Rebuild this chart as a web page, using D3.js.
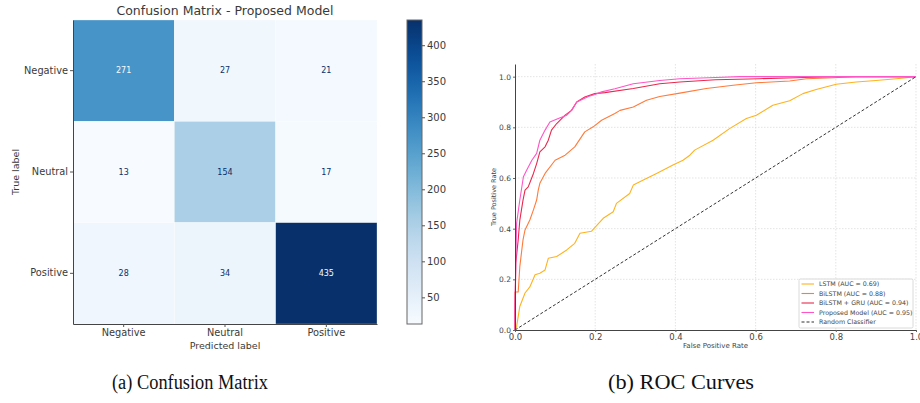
<!DOCTYPE html>
<html>
<head>
<meta charset="utf-8">
<script src="https://cdn.jsdelivr.net/npm/d3@7"></script>
<style>
  body { margin: 0; background: #fff; }
  svg { display: block; font-family: "DejaVu Sans", sans-serif; }
</style>
</head>
<body>
<div id="chart"></div>
<script>
// Confusion matrix data
const classLabels = ['Negative', 'Neutral', 'Positive'];
const matrixValues = [
  [271, 27, 21],
  [13, 154, 17],
  [28, 34, 435]
];
const colorbarTicks = [50, 100, 150, 200, 250, 300, 350, 400];

// ROC curves, [fpr, tpr] points
const lstmRoc = [[0,0],[0.004,0.013],[0.012,0.093],[0.025,0.146],[0.037,0.17],[0.05,0.218],[0.062,0.224],[0.075,0.237],[0.083,0.283],[0.104,0.29],[0.129,0.316],[0.149,0.342],[0.162,0.382],[0.191,0.39],[0.22,0.441],[0.245,0.467],[0.253,0.5],[0.286,0.539],[0.295,0.572],[0.32,0.592],[0.353,0.618],[0.394,0.651],[0.419,0.67],[0.436,0.69],[0.448,0.71],[0.494,0.749],[0.535,0.795],[0.577,0.835],[0.602,0.848],[0.643,0.887],[0.685,0.905],[0.718,0.933],[0.751,0.949],[0.801,0.97],[0.851,0.979],[0.9,0.985],[0.951,0.992],[1,1]];
const bilstmRoc = [[0,0],[0,0.15],[0.008,0.15],[0.012,0.25],[0.02,0.356],[0.025,0.395],[0.037,0.434],[0.046,0.474],[0.054,0.513],[0.058,0.552],[0.062,0.579],[0.075,0.618],[0.1,0.67],[0.125,0.69],[0.149,0.723],[0.174,0.782],[0.195,0.802],[0.216,0.828],[0.249,0.855],[0.262,0.867],[0.295,0.88],[0.328,0.907],[0.361,0.922],[0.411,0.935],[0.477,0.953],[0.544,0.966],[0.602,0.976],[0.685,0.983],[0.727,0.992],[0.793,0.996],[0.85,1],[1,1]];
const gruRoc = [[0,0],[0,0.07],[0.002,0.265],[0.008,0.356],[0.012,0.434],[0.02,0.513],[0.025,0.552],[0.033,0.565],[0.046,0.618],[0.054,0.657],[0.062,0.703],[0.075,0.723],[0.083,0.749],[0.091,0.789],[0.104,0.815],[0.125,0.848],[0.141,0.867],[0.154,0.9],[0.174,0.92],[0.199,0.933],[0.224,0.937],[0.295,0.953],[0.361,0.972],[0.411,0.979],[0.5,0.988],[0.61,0.992],[0.7,0.996],[0.79,1],[1,1]];
const proposedRoc = [[0,0],[0,0.1],[0.004,0.421],[0.012,0.513],[0.021,0.605],[0.029,0.631],[0.042,0.67],[0.054,0.697],[0.062,0.749],[0.075,0.789],[0.087,0.821],[0.108,0.835],[0.129,0.848],[0.141,0.867],[0.154,0.9],[0.183,0.922],[0.199,0.93],[0.216,0.94],[0.249,0.952],[0.295,0.972],[0.361,0.985],[0.411,0.992],[0.5,0.997],[0.56,1],[1,1]];
const randomRoc = [[0,0],[1,1]];

const rocSeries = [
  { name: 'LSTM (AUC = 0.69)', data: lstmRoc, color: '#ffb21e' },
  { name: 'BiLSTM (AUC = 0.88)', data: bilstmRoc, color: '#ff7b3c' },
  { name: 'BiLSTM + GRU (AUC = 0.94)', data: gruRoc, color: '#e8294e' },
  { name: 'Proposed Model (AUC = 0.95)', data: proposedRoc, color: '#ff55c6' }
];
const rocTicks = [0, 0.2, 0.4, 0.6, 0.8, 1.0];

const svg = d3.select('#chart').append('svg')
  .attr('width', 920)
  .attr('height', 403);

// ---------- Confusion matrix ----------
const cm = { left: 73, right: 377, top: 20, bottom: 324 };
const textColor = '#3a3a3a';

const xBand = d3.scaleBand().domain(classLabels).range([cm.left, cm.right]);
const yBand = d3.scaleBand().domain(classLabels).range([cm.top, cm.bottom]);
const flat = matrixValues.flat();
const vmin = d3.min(flat), vmax = d3.max(flat);
const color = d3.scaleSequential(d3.interpolateBlues).domain([vmin, vmax]);

const cells = [];
matrixValues.forEach((row, i) => row.forEach((v, j) => cells.push({ t: classLabels[i], p: classLabels[j], v })));

const cmG = svg.append('g');
cmG.selectAll('rect.cell')
  .data(cells)
  .enter().append('rect')
  .attr('class', 'cell')
  .attr('x', d => xBand(d.p))
  .attr('y', d => yBand(d.t))
  .attr('width', xBand.bandwidth())
  .attr('height', yBand.bandwidth())
  .attr('fill', d => color(d.v))
  .attr('stroke', '#fff')
  .attr('stroke-opacity', 0.5)
  .attr('stroke-width', 0.6);

const thresh = (vmin + vmax) / 2;
cmG.selectAll('text.val')
  .data(cells)
  .enter().append('text')
  .attr('x', d => xBand(d.p) + xBand.bandwidth() / 2)
  .attr('y', d => yBand(d.t) + yBand.bandwidth() / 2)
  .attr('dy', '0.35em')
  .attr('text-anchor', 'middle')
  .style('font-size', '8px')
  .style('fill', d => d.v > thresh ? color(vmin) : color(vmax))
  .text(d => d.v);

const cmXAxis = cmG.append('g')
  .attr('transform', `translate(0,${cm.bottom})`)
  .call(d3.axisBottom(xBand).tickSizeInner(3).tickSizeOuter(0).tickPadding(2));
const cmYAxis = cmG.append('g')
  .attr('transform', `translate(${cm.left},0)`)
  .call(d3.axisLeft(yBand).tickSizeInner(3).tickSizeOuter(0).tickPadding(2));
[cmXAxis, cmYAxis].forEach(a => {
  a.select('.domain').attr('stroke', '#444').attr('stroke-width', 1);
  a.selectAll('.tick line').attr('stroke', '#555');
  a.selectAll('.tick text').style('font-size', '9.8px').style('fill', textColor).style('font-family', '"DejaVu Sans", sans-serif');
});

cmG.append('text')
  .attr('x', (cm.left + cm.right) / 2)
  .attr('y', 15)
  .attr('text-anchor', 'middle')
  .style('font-size', '12.5px')
  .style('fill', textColor)
  .text('Confusion Matrix - Proposed Model');

cmG.append('text')
  .attr('x', (cm.left + cm.right) / 2)
  .attr('y', 349)
  .attr('text-anchor', 'middle')
  .style('font-size', '9.5px')
  .style('fill', textColor)
  .text('Predicted label');

cmG.append('text')
  .attr('transform', `translate(19,${(cm.top + cm.bottom) / 2}) rotate(-90)`)
  .attr('text-anchor', 'middle')
  .style('font-size', '9.5px')
  .style('fill', textColor)
  .text('True label');

// Colorbar
const cb = { left: 407, width: 15 };
const cbScale = d3.scaleLinear().domain([vmin, vmax]).range([cm.bottom, cm.top]);
const grad = svg.append('defs').append('linearGradient')
  .attr('id', 'cbGrad')
  .attr('x1', 0).attr('y1', 1).attr('x2', 0).attr('y2', 0);
d3.range(0, 1.0001, 0.05).forEach(t => {
  grad.append('stop').attr('offset', t).attr('stop-color', d3.interpolateBlues(t));
});
svg.append('rect')
  .attr('x', cb.left)
  .attr('y', cm.top)
  .attr('width', cb.width)
  .attr('height', cm.bottom - cm.top)
  .attr('fill', 'url(#cbGrad)')
  .attr('stroke', '#666')
  .attr('stroke-width', 1);
const cbAxis = svg.append('g')
  .attr('transform', `translate(${cb.left + cb.width},0)`)
  .call(d3.axisRight(cbScale).tickValues(colorbarTicks).tickSize(3).tickPadding(2));
cbAxis.select('.domain').remove();
cbAxis.selectAll('.tick line').attr('stroke', '#555');
cbAxis.selectAll('.tick text').style('font-size', '10px').style('fill', textColor).style('font-family', '"DejaVu Sans", sans-serif');

// ---------- ROC curves ----------
const roc = { left: 515, right: 916, top: 64, bottom: 330 };
const xRoc = d3.scaleLinear().domain([0, 1]).range([roc.left, roc.right]);
const yRoc = d3.scaleLinear().domain([0, 1.05]).range([roc.bottom, roc.top]);
const rocG = svg.append('g');

// grid
rocG.selectAll('line.vgrid')
  .data(rocTicks.slice(1))
  .enter().append('line')
  .attr('x1', d => xRoc(d)).attr('x2', d => xRoc(d))
  .attr('y1', roc.top).attr('y2', roc.bottom)
  .attr('stroke', '#d8d8d8').attr('stroke-width', 0.7).attr('stroke-dasharray', '1.5,1.5');
rocG.selectAll('line.hgrid')
  .data(rocTicks.slice(1))
  .enter().append('line')
  .attr('x1', roc.left).attr('x2', roc.right)
  .attr('y1', d => yRoc(d)).attr('y2', d => yRoc(d))
  .attr('stroke', '#d8d8d8').attr('stroke-width', 0.7).attr('stroke-dasharray', '1.5,1.5');

const line = d3.line().x(d => xRoc(d[0])).y(d => yRoc(d[1]));
rocSeries.forEach(s => {
  rocG.append('path')
    .datum(s.data)
    .attr('d', line)
    .attr('fill', 'none')
    .attr('stroke', s.color)
    .attr('stroke-width', 1.1)
    .attr('stroke-linejoin', 'round');
});
rocG.append('path')
  .datum(randomRoc)
  .attr('d', line)
  .attr('fill', 'none')
  .attr('stroke', '#333')
  .attr('stroke-width', 1)
  .attr('stroke-dasharray', '3,2');

const rocXAxis = rocG.append('g')
  .attr('transform', `translate(0,${roc.bottom})`)
  .call(d3.axisBottom(xRoc).tickValues(rocTicks).tickFormat(d3.format('.1f')).tickSizeInner(2).tickSizeOuter(0).tickPadding(2));
const rocYAxis = rocG.append('g')
  .attr('transform', `translate(${roc.left},0)`)
  .call(d3.axisLeft(yRoc).tickValues(rocTicks).tickFormat(d3.format('.1f')).tickSizeInner(2).tickSizeOuter(0).tickPadding(2));
[rocXAxis, rocYAxis].forEach(a => {
  a.select('.domain').attr('stroke', '#444').attr('stroke-width', 1);
  a.selectAll('.tick line').attr('stroke', '#666');
  a.selectAll('.tick text').style('fill', '#444').style('font-family', '"DejaVu Sans", sans-serif');
});
rocXAxis.selectAll('.tick text').style('font-size', '8.5px');
rocYAxis.selectAll('.tick text').style('font-size', '7.5px');

rocG.append('text')
  .attr('x', (roc.left + roc.right) / 2)
  .attr('y', 348)
  .attr('text-anchor', 'middle')
  .style('font-size', '7px')
  .style('fill', '#444')
  .text('False Positive Rate');
rocG.append('text')
  .attr('transform', `translate(496,${yRoc(0.525)}) rotate(-90)`)
  .attr('text-anchor', 'middle')
  .style('font-size', '6.5px')
  .style('fill', '#444')
  .text('True Positive Rate');

// legend
const legendItems = rocSeries.map(s => ({ name: s.name, color: s.color, dash: null }))
  .concat([{ name: 'Random Classifier', color: '#333', dash: '3,2' }]);
const lg = rocG.append('g').attr('transform', 'translate(799,279)');
lg.append('rect')
  .attr('width', 114).attr('height', 49)
  .attr('rx', 1.5)
  .attr('fill', '#fff').attr('fill-opacity', 0.85)
  .attr('stroke', '#d0d0d0').attr('stroke-width', 0.8);
const entries = lg.selectAll('g.entry')
  .data(legendItems)
  .enter().append('g')
  .attr('transform', (d, i) => `translate(0,${5 + i * 9.5})`);
entries.append('line')
  .attr('x1', 2.5).attr('x2', 15)
  .attr('stroke', d => d.color)
  .attr('stroke-width', 1.1)
  .attr('stroke-dasharray', d => d.dash);
entries.append('text')
  .attr('x', 20)
  .attr('dy', '0.35em')
  .style('font-size', '6.3px')
  .style('fill', '#444')
  .text(d => d.name);

// ---------- Captions ----------
svg.append('text')
  .attr('x', 190)
  .attr('y', 389)
  .attr('text-anchor', 'middle')
  .attr('textLength', 156)
  .attr('lengthAdjust', 'spacingAndGlyphs')
  .style('font-family', '"Liberation Serif", serif')
  .style('font-size', '20px')
  .style('fill', '#111')
  .text('(a) Confusion Matrix');
svg.append('text')
  .attr('x', 681)
  .attr('y', 389)
  .attr('text-anchor', 'middle')
  .attr('textLength', 146)
  .attr('lengthAdjust', 'spacingAndGlyphs')
  .style('font-family', '"Liberation Serif", serif')
  .style('font-size', '20px')
  .style('fill', '#111')
  .text('(b) ROC Curves');
</script>
</body>
</html>
